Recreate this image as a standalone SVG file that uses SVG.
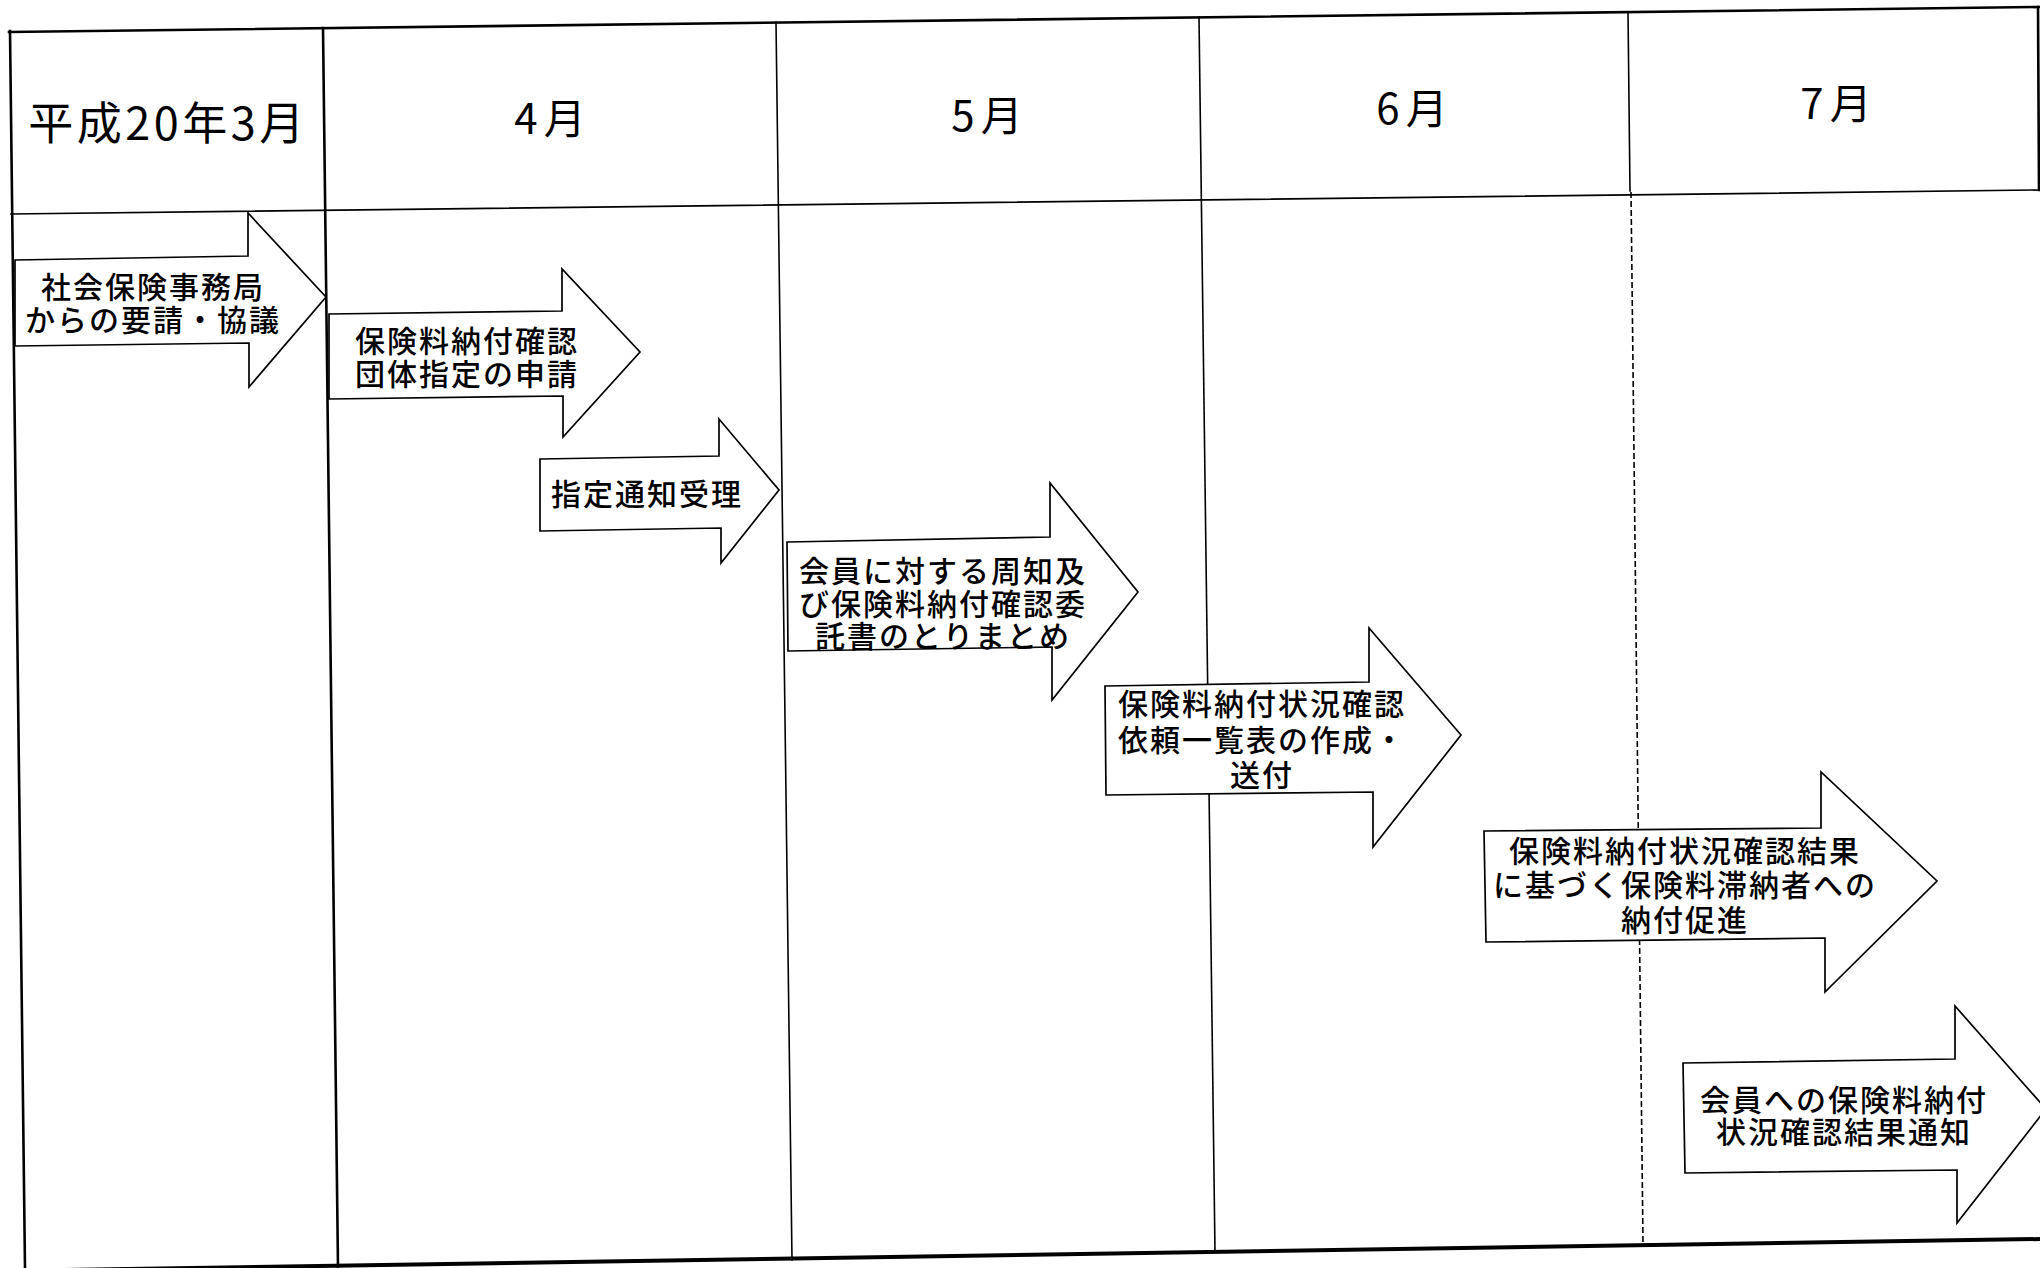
<svg xmlns="http://www.w3.org/2000/svg" width="2040" height="1268" viewBox="0 0 2040 1268">
<style>
.bg{fill:#fff}
.ln{fill:none;stroke:#000;stroke-linecap:square}
.thick{stroke-width:2.6}
.thin{stroke-width:1.6}
.bold{stroke-width:4}
.dash{stroke-dasharray:6 3;stroke-linecap:butt}
.arrow{fill:#fff;stroke:#000;stroke-width:1.7;stroke-linejoin:miter}
.t{font-family:"Noto Sans CJK JP","Noto Sans CJK SC",sans-serif;font-size:30px;font-weight:500;letter-spacing:2px;text-anchor:middle;fill:#000}
.h{font-family:"Noto Sans CJK JP","Noto Sans CJK SC",sans-serif;font-size:42px;font-weight:400;letter-spacing:6px;text-anchor:middle;fill:#000}
.h0{font-size:45px;letter-spacing:3.5px}
</style>
<rect class="bg" x="0" y="0" width="2040" height="1268"/>
<g id="grid">
  <line class="ln thick" x1="9" y1="32" x2="2040" y2="7"/>
  <line class="ln thin" x1="11" y1="214" x2="2040" y2="190"/>
  <line class="ln bold" x1="0" y1="1271" x2="2040" y2="1239"/>
  <line class="ln thick" x1="10" y1="31" x2="25" y2="1268"/>
  <line class="ln thick" x1="323" y1="28" x2="338" y2="1268"/>
  <line class="ln thin" x1="776" y1="22" x2="792" y2="1260"/>
  <line class="ln thin" x1="1199" y1="17" x2="1215" y2="1252"/>
  <line class="ln thin" x1="1628" y1="12" x2="1630" y2="191"/>
  <line class="ln thin dash" x1="1631" y1="192" x2="1643" y2="1242"/>
  <line class="ln thick" x1="2038" y1="7" x2="2039" y2="190"/>
</g>
<g id="headers">
  <text class="h h0" x="168" y="140">平成20年3月</text>
  <text class="h" x="553" y="134">4月</text>
  <text class="h" x="990" y="131">5月</text>
  <text class="h" x="1415" y="124">6月</text>
  <text class="h" x="1839" y="119">7月</text>
</g>
<g id="connectors"></g>
<g id="node1">
  <polygon class="arrow" points="15,260 248,256 248,213 326,297 249,387 249,343 15,346"/>
  <text class="t"><tspan x="153" y="298">社会保険事務局</tspan><tspan x="153" y="331">からの要請・協議</tspan></text>
</g>
<g id="node2">
  <polygon class="arrow" points="329,314 562,311 562,269 640,352 563,437 563,396 329,399"/>
  <text class="t"><tspan x="467" y="352">保険料納付確認</tspan><tspan x="467" y="385">団体指定の申請</tspan></text>
</g>
<g id="node3">
  <polygon class="arrow" points="540,459 719,456 719,419 779,490 721,563 721,528 540,531"/>
  <text class="t" x="647" y="505">指定通知受理</text>
</g>
<g id="node4">
  <polygon class="arrow" points="787,542 1050,537 1050,483 1138,592 1052,700 1052,647 788,651"/>
  <text class="t"><tspan x="943" y="582">会員に対する周知及</tspan><tspan x="943" y="615">び保険料納付確認委</tspan><tspan x="943" y="647">託書のとりまとめ</tspan></text>
</g>
<g id="node5">
  <polygon class="arrow" points="1105,686 1369,682 1369,628 1461,735 1373,847 1373,792 1106,795"/>
  <text class="t"><tspan x="1262" y="715">保険料納付状況確認</tspan><tspan x="1262" y="751">依頼一覧表の作成・</tspan><tspan x="1262" y="786">送付</tspan></text>
</g>
<g id="node6">
  <polygon class="arrow" points="1484,831 1821,828 1821,772 1937,881 1825,992 1825,938 1486,942"/>
  <text class="t"><tspan x="1685" y="862">保険料納付状況確認結果</tspan><tspan x="1685" y="896">に基づく保険料滞納者への</tspan><tspan x="1685" y="931">納付促進</tspan></text>
</g>
<g id="node7">
  <polygon class="arrow" points="1683,1063 1955,1059 1955,1006 2046,1109 1957,1223 1957,1170 1685,1173"/>
  <text class="t"><tspan x="1844" y="1111">会員への保険料納付</tspan><tspan x="1844" y="1143">状況確認結果通知</tspan></text>
</g>
</svg>
